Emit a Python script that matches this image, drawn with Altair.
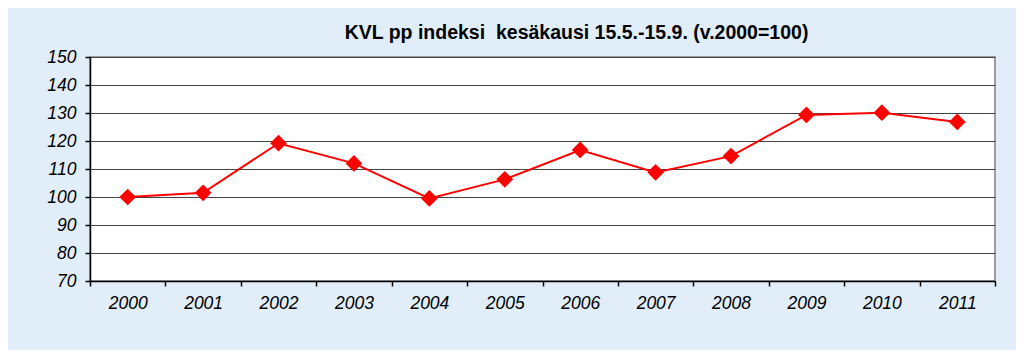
import altair as alt
import pandas as pd

years = ["2000", "2001", "2002", "2003", "2004", "2005", "2006", "2007", "2008", "2009", "2010", "2011"]
index_values = [100.0, 101.5, 119.2, 112.0, 99.5, 106.3, 116.8, 108.8, 114.6, 129.3, 130.1, 126.8]
y_ticks = [70, 80, 90, 100, 110, 120, 130, 140, 150]
title_text = "KVL pp indeksi\u00a0 kesäkausi 15.5.-15.9. (v.2000=100)"

df = pd.DataFrame({"year": years, "value": index_values})

x_enc = alt.X(
    "year:O",
    sort=years,
    scale=alt.Scale(type="band", paddingInner=0, paddingOuter=0),
    axis=alt.Axis(
        title=None, labelAngle=0, tickBand="extent", grid=False,
        labelFont="Liberation Sans", labelFontSize=17.5, labelFontStyle="italic",
        labelColor="black", labelPadding=8, tickSize=5, tickColor="black",
        domainColor="black", domainWidth=1.5, tickWidth=1.5,
    ),
)
y_enc = alt.Y(
    "value:Q",
    scale=alt.Scale(domain=[70, 150], nice=False, zero=False),
    axis=alt.Axis(
        title=None, values=y_ticks, grid=True, gridColor="#444444", gridWidth=1,
        labelFont="Liberation Sans", labelFontSize=17.5, labelFontStyle="italic",
        labelColor="black", labelPadding=9, tickSize=5, tickColor="black",
        domainColor="black", domainWidth=1.5, tickWidth=1.5,
    ),
)

line = alt.Chart(df).mark_line(color="#ff0000", strokeWidth=2).encode(x=x_enc, y=y_enc)
pts = alt.Chart(df).mark_point(shape="diamond", filled=True, color="#ff0000", size=280, opacity=1).encode(x=x_enc, y=y_enc)

chart = (
    alt.layer(line, pts)
    .properties(
        width=905,
        height=224,
        padding={"left": 82, "top": 49, "right": 21, "bottom": 69},
        autosize=alt.AutoSizeParams(type="none"),
        background="#e1eefa",
        title=alt.TitleParams(
            text=title_text, font="Liberation Sans", fontSize=19.5, fontWeight="bold",
            color="black", anchor="middle", dx=34, offset=5,
        ),
    )
    .configure_view(stroke="#808080", strokeWidth=1.5, fill="white")
)

chart.save("out.html", embed_options={"renderer": "svg", "actions": False})
